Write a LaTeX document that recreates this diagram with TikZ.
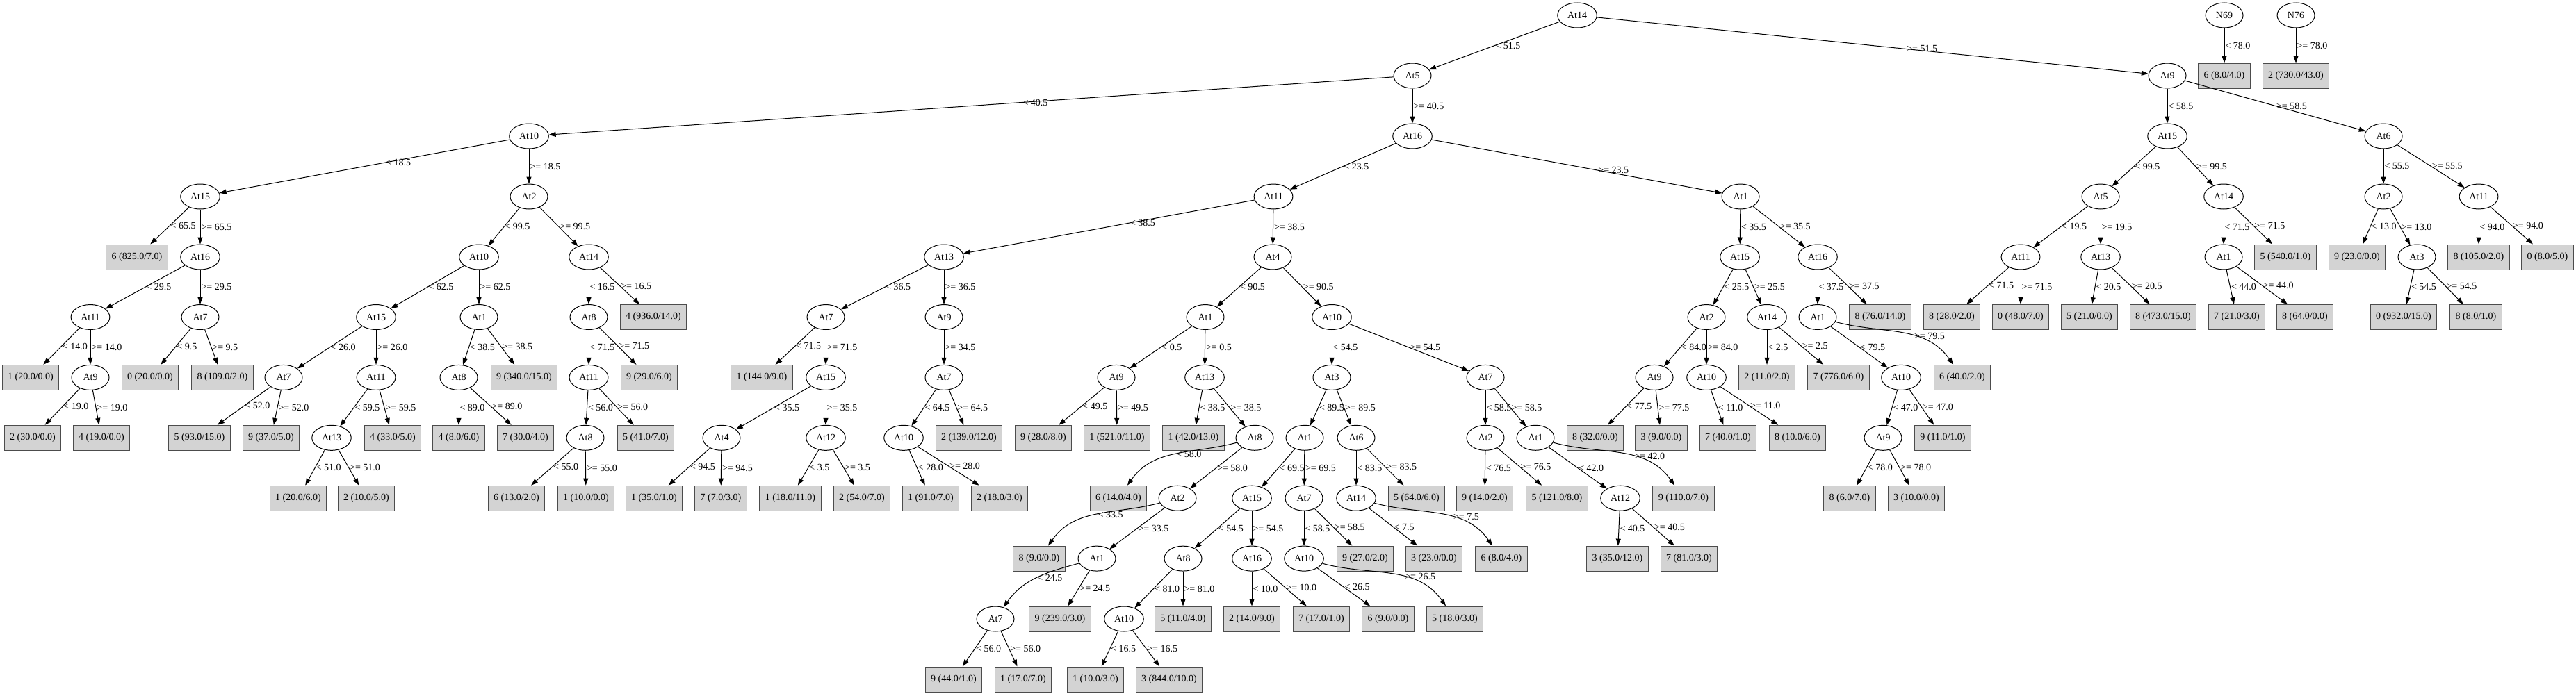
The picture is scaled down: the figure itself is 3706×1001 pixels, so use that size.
\documentclass[tikz,border=0pt]{standalone}
\usepackage{fontspec}
\setmainfont{Liberation Serif}
\usetikzlibrary{shapes.geometric, arrows.meta}
\definecolor{leafgray}{HTML}{D3D3D3}

\begin{document}
\begin{tikzpicture}[x=1pt, y=-1pt, >={Triangle[length=10pt,width=7pt]}, line width=1pt,
    font=\fontsize{14}{16}\selectfont,
    split/.style={ellipse, draw, minimum width=54pt, minimum height=36pt, inner xsep=6pt, inner ysep=3pt},
    leaf/.style={rectangle, draw=black!70, fill=leafgray, minimum width=54pt, minimum height=36pt, inner xsep=8pt},
    lbl/.style={anchor=west, inner sep=1pt},
    swingr/.style={out=-15, in=125},
    swingl/.style={out=195, in=55}]
    \useasboundingbox (0,0) rectangle (3706,1001);

    % Row 0
    \node[split] (n1) at (2269,22) {At14};
    \node[split] (n2) at (3200,22) {N69};
    \node[split] (n3) at (3303,22) {N76};

    % Row 1
    \node[split] (n4) at (2032,109) {At5};
    \node[split] (n5) at (3118,109) {At9};
    \node[leaf] (l1) at (3200,109) {6 (8.0/4.0)};
    \node[leaf] (l2) at (3303,109) {2 (730.0/43.0)};

    % Row 2
    \node[split] (n6) at (761,196) {At10};
    \node[split] (n7) at (2032,196) {At16};
    \node[split] (n8) at (3118,196) {At15};
    \node[split] (n9) at (3429,196) {At6};

    % Row 3
    \node[split] (n10) at (288,283) {At15};
    \node[split] (n11) at (761,283) {At2};
    \node[split] (n12) at (1832,283) {At11};
    \node[split] (n13) at (2504,283) {At1};
    \node[split] (n14) at (3022,283) {At5};
    \node[split] (n15) at (3199,283) {At14};
    \node[split] (n16) at (3429,283) {At2};
    \node[split] (n17) at (3566,283) {At11};

    % Row 4
    \node[leaf] (l3) at (197,370) {6 (825.0/7.0)};
    \node[split] (n18) at (288,370) {At16};
    \node[split] (n19) at (689,370) {At10};
    \node[split] (n20) at (847,370) {At14};
    \node[split] (n21) at (1358,370) {At13};
    \node[split] (n22) at (1831,370) {At4};
    \node[split] (n23) at (2503,370) {At15};
    \node[split] (n24) at (2615,370) {At16};
    \node[split] (n25) at (2907,370) {At11};
    \node[split] (n26) at (3022,370) {At13};
    \node[split] (n27) at (3199,370) {At1};
    \node[leaf] (l4) at (3288,370) {5 (540.0/1.0)};
    \node[leaf] (l5) at (3391,370) {9 (23.0/0.0)};
    \node[split] (n28) at (3477,370) {At3};
    \node[leaf] (l6) at (3566,370) {8 (105.0/2.0)};
    \node[leaf] (l7) at (3665,370) {0 (8.0/5.0)};

    % Row 5
    \node[split] (n29) at (130,456.5) {At11};
    \node[split] (n30) at (288,456.5) {At7};
    \node[split] (n31) at (541,456.5) {At15};
    \node[split] (n32) at (689,456.5) {At1};
    \node[split] (n33) at (847,456.5) {At8};
    \node[leaf] (l8) at (940,456.5) {4 (936.0/14.0)};
    \node[split] (n34) at (1188,456.5) {At7};
    \node[split] (n35) at (1358,456.5) {At9};
    \node[split] (n36) at (1734,456.5) {At1};
    \node[split] (n37) at (1916,456.5) {At10};
    \node[split] (n38) at (2455,456.5) {At2};
    \node[split] (n39) at (2542,456.5) {At14};
    \node[split] (n40) at (2615,456.5) {At1};
    \node[leaf] (l9) at (2705,456.5) {8 (76.0/14.0)};
    \node[leaf] (l10) at (2808,456.5) {8 (28.0/2.0)};
    \node[leaf] (l11) at (2907,456.5) {0 (48.0/7.0)};
    \node[leaf] (l12) at (3006,456.5) {5 (21.0/0.0)};
    \node[leaf] (l13) at (3112,456.5) {8 (473.0/15.0)};
    \node[leaf] (l14) at (3218,456.5) {7 (21.0/3.0)};
    \node[leaf] (l15) at (3316,456.5) {8 (64.0/0.0)};
    \node[leaf] (l16) at (3458,456.5) {0 (932.0/15.0)};
    \node[leaf] (l17) at (3562,456.5) {8 (8.0/1.0)};

    % Row 6
    \node[leaf] (l18) at (44,543.4) {1 (20.0/0.0)};
    \node[split] (n41) at (130,543.4) {At9};
    \node[leaf] (l19) at (216,543.4) {0 (20.0/0.0)};
    \node[leaf] (l20) at (320,543.4) {8 (109.0/2.0)};
    \node[split] (n42) at (408,543.4) {At7};
    \node[split] (n43) at (541,543.4) {At11};
    \node[split] (n44) at (660,543.4) {At8};
    \node[leaf] (l21) at (754,543.4) {9 (340.0/15.0)};
    \node[split] (n45) at (847,543.4) {At11};
    \node[leaf] (l22) at (934,543.4) {9 (29.0/6.0)};
    \node[leaf] (l23) at (1096,543.4) {1 (144.0/9.0)};
    \node[split] (n46) at (1188,543.4) {At15};
    \node[split] (n47) at (1358,543.4) {At7};
    \node[split] (n48) at (1606,543.4) {At9};
    \node[split] (n49) at (1733,543.4) {At13};
    \node[split] (n50) at (1916,543.4) {At3};
    \node[split] (n51) at (2137,543.4) {At7};
    \node[split] (n52) at (2380,543.4) {At9};
    \node[split] (n53) at (2455,543.4) {At10};
    \node[leaf] (l24) at (2542,543.4) {2 (11.0/2.0)};
    \node[leaf] (l25) at (2645,543.4) {7 (776.0/6.0)};
    \node[split] (n54) at (2735,543.4) {At10};
    \node[leaf] (l26) at (2823,543.4) {6 (40.0/2.0)};

    % Row 7
    \node[leaf] (l27) at (47,630.3) {2 (30.0/0.0)};
    \node[leaf] (l28) at (146,630.3) {4 (19.0/0.0)};
    \node[leaf] (l29) at (287,630.3) {5 (93.0/15.0)};
    \node[leaf] (l30) at (390,630.3) {9 (37.0/5.0)};
    \node[split] (n55) at (477,630.3) {At13};
    \node[leaf] (l31) at (565,630.3) {4 (33.0/5.0)};
    \node[leaf] (l32) at (660,630.3) {4 (8.0/6.0)};
    \node[leaf] (l33) at (756,630.3) {7 (30.0/4.0)};
    \node[split] (n56) at (842,630.3) {At8};
    \node[leaf] (l34) at (929,630.3) {5 (41.0/7.0)};
    \node[split] (n57) at (1038,630.3) {At4};
    \node[split] (n58) at (1188,630.3) {At12};
    \node[split] (n59) at (1300,630.3) {At10};
    \node[leaf] (l35) at (1394,630.3) {2 (139.0/12.0)};
    \node[leaf] (l36) at (1501,630.3) {9 (28.0/8.0)};
    \node[leaf] (l37) at (1607,630.3) {1 (521.0/11.0)};
    \node[leaf] (l38) at (1717,630.3) {1 (42.0/13.0)};
    \node[split] (n60) at (1805,630.3) {At8};
    \node[split] (n61) at (1877,630.3) {At1};
    \node[split] (n62) at (1951,630.3) {At6};
    \node[split] (n63) at (2137,630.3) {At2};
    \node[split] (n64) at (2209,630.3) {At1};
    \node[leaf] (l39) at (2295,630.3) {8 (32.0/0.0)};
    \node[leaf] (l40) at (2390,630.3) {3 (9.0/0.0)};
    \node[leaf] (l41) at (2486,630.3) {7 (40.0/1.0)};
    \node[leaf] (l42) at (2586,630.3) {8 (10.0/6.0)};
    \node[split] (n65) at (2709,630.3) {At9};
    \node[leaf] (l43) at (2795,630.3) {9 (11.0/1.0)};

    % Row 8
    \node[leaf] (l44) at (429,717.2) {1 (20.0/6.0)};
    \node[leaf] (l45) at (527,717.2) {2 (10.0/5.0)};
    \node[leaf] (l46) at (743,717.2) {6 (13.0/2.0)};
    \node[leaf] (l47) at (843,717.2) {1 (10.0/0.0)};
    \node[leaf] (l48) at (941,717.2) {1 (35.0/1.0)};
    \node[leaf] (l49) at (1037,717.2) {7 (7.0/3.0)};
    \node[leaf] (l50) at (1137,717.2) {1 (18.0/11.0)};
    \node[leaf] (l51) at (1240,717.2) {2 (54.0/7.0)};
    \node[leaf] (l52) at (1339,717.2) {1 (91.0/7.0)};
    \node[leaf] (l53) at (1438,717.2) {2 (18.0/3.0)};
    \node[leaf] (l54) at (1609,717.2) {6 (14.0/4.0)};
    \node[split] (n66) at (1694,717.2) {At2};
    \node[split] (n67) at (1801,717.2) {At15};
    \node[split] (n68) at (1876,717.2) {At7};
    \node[split] (n69) at (1951,717.2) {At14};
    \node[leaf] (l55) at (2038,717.2) {5 (64.0/6.0)};
    \node[leaf] (l56) at (2136,717.2) {9 (14.0/2.0)};
    \node[leaf] (l57) at (2240,717.2) {5 (121.0/8.0)};
    \node[split] (n70) at (2331,717.2) {At12};
    \node[leaf] (l58) at (2422,717.2) {9 (110.0/7.0)};
    \node[leaf] (l59) at (2661,717.2) {8 (6.0/7.0)};
    \node[leaf] (l60) at (2757,717.2) {3 (10.0/0.0)};

    % Row 9
    \node[leaf] (l61) at (1495,804.1) {8 (9.0/0.0)};
    \node[split] (n71) at (1578,804.1) {At1};
    \node[split] (n72) at (1702,804.1) {At8};
    \node[split] (n73) at (1801,804.1) {At16};
    \node[split] (n74) at (1876,804.1) {At10};
    \node[leaf] (l62) at (1964,804.1) {9 (27.0/2.0)};
    \node[leaf] (l63) at (2063,804.1) {3 (23.0/0.0)};
    \node[leaf] (l64) at (2160,804.1) {6 (8.0/4.0)};
    \node[leaf] (l65) at (2327,804.1) {3 (35.0/12.0)};
    \node[leaf] (l66) at (2430,804.1) {7 (81.0/3.0)};

    % Row 10
    \node[split] (n75) at (1432,891) {At7};
    \node[leaf] (l67) at (1525,891) {9 (239.0/3.0)};
    \node[split] (n76) at (1617,891) {At10};
    \node[leaf] (l68) at (1702,891) {5 (11.0/4.0)};
    \node[leaf] (l69) at (1801,891) {2 (14.0/9.0)};
    \node[leaf] (l70) at (1901,891) {7 (17.0/1.0)};
    \node[leaf] (l71) at (1997,891) {6 (9.0/0.0)};
    \node[leaf] (l72) at (2093,891) {5 (18.0/3.0)};

    % Row 11
    \node[leaf] (l73) at (1372,978) {9 (44.0/1.0)};
    \node[leaf] (l74) at (1472,978) {1 (17.0/7.0)};
    \node[leaf] (l75) at (1576,978) {1 (10.0/3.0)};
    \node[leaf] (l76) at (1682,978) {3 (844.0/10.0)};

    % Splits
    \path[->]
        (n1) edge node[lbl] {< 51.5} (n4)
             edge node[lbl, pos=.56] {>= 51.5} (n5)
        (n2) edge node[lbl] {< 78.0} (l1)
        (n3) edge node[lbl] {>= 78.0} (l2)
        (n4) edge node[lbl, pos=.44] {< 40.5} (n6)
             edge node[lbl] {>= 40.5} (n7)
        (n5) edge node[lbl] {< 58.5} (n8)
             edge node[lbl] {>= 58.5} (n9)
        (n6) edge node[lbl, pos=.43] {< 18.5} (n10)
             edge node[lbl] {>= 18.5} (n11)
        (n7) edge node[lbl] {< 23.5} (n12)
             edge node[lbl, pos=.57] {>= 23.5} (n13)
        (n8) edge node[lbl] {< 99.5} (n14)
             edge node[lbl] {>= 99.5} (n15)
        (n9) edge node[lbl] {< 55.5} (n16)
             edge node[lbl] {>= 55.5} (n17)
        (n10) edge node[lbl] {< 65.5} (l3)
              edge node[lbl] {>= 65.5} (n18)
        (n11) edge node[lbl] {< 99.5} (n19)
              edge node[lbl] {>= 99.5} (n20)
        (n12) edge node[lbl, pos=.43] {< 38.5} (n21)
              edge node[lbl] {>= 38.5} (n22)
        (n13) edge node[lbl] {< 35.5} (n23)
              edge node[lbl] {>= 35.5} (n24)
        (n14) edge node[lbl] {< 19.5} (n25)
              edge node[lbl] {>= 19.5} (n26)
        (n15) edge node[lbl] {< 71.5} (n27)
              edge node[lbl] {>= 71.5} (l4)
        (n16) edge node[lbl] {< 13.0} (l5)
              edge node[lbl] {>= 13.0} (n28)
        (n17) edge node[lbl] {< 94.0} (l6)
              edge node[lbl] {>= 94.0} (l7)
        (n18) edge node[lbl] {< 29.5} (n29)
              edge node[lbl] {>= 29.5} (n30)
        (n19) edge node[lbl] {< 62.5} (n31)
              edge node[lbl] {>= 62.5} (n32)
        (n20) edge node[lbl] {< 16.5} (n33)
              edge node[lbl] {>= 16.5} (l8)
        (n21) edge node[lbl] {< 36.5} (n34)
              edge node[lbl] {>= 36.5} (n35)
        (n22) edge node[lbl] {< 90.5} (n36)
              edge node[lbl] {>= 90.5} (n37)
        (n23) edge node[lbl] {< 25.5} (n38)
              edge node[lbl] {>= 25.5} (n39)
        (n24) edge node[lbl] {< 37.5} (n40)
              edge node[lbl] {>= 37.5} (l9)
        (n25) edge node[lbl] {< 71.5} (l10)
              edge node[lbl] {>= 71.5} (l11)
        (n26) edge node[lbl] {< 20.5} (l12)
              edge node[lbl] {>= 20.5} (l13)
        (n27) edge node[lbl] {< 44.0} (l14)
              edge node[lbl] {>= 44.0} (l15)
        (n28) edge node[lbl] {< 54.5} (l16)
              edge node[lbl] {>= 54.5} (l17)
        (n29) edge node[lbl] {< 14.0} (l18)
              edge node[lbl] {>= 14.0} (n41)
        (n30) edge node[lbl] {< 9.5} (l19)
              edge node[lbl] {>= 9.5} (l20)
        (n31) edge node[lbl] {< 26.0} (n42)
              edge node[lbl] {>= 26.0} (n43)
        (n32) edge node[lbl] {< 38.5} (n44)
              edge node[lbl] {>= 38.5} (l21)
        (n33) edge node[lbl] {< 71.5} (n45)
              edge node[lbl] {>= 71.5} (l22)
        (n34) edge node[lbl] {< 71.5} (l23)
              edge node[lbl] {>= 71.5} (n46)
        (n35) edge node[lbl] {>= 34.5} (n47)
        (n36) edge node[lbl] {< 0.5} (n48)
              edge node[lbl] {>= 0.5} (n49)
        (n37) edge node[lbl] {< 54.5} (n50)
              edge node[lbl] {>= 54.5} (n51)
        (n38) edge node[lbl] {< 84.0} (n52)
              edge node[lbl] {>= 84.0} (n53)
        (n39) edge node[lbl] {< 2.5} (l24)
              edge node[lbl] {>= 2.5} (l25)
        (n40) edge node[lbl] {< 79.5} (n54)
              edge[swingr] node[lbl, pos=.6] {>= 79.5} (l26)
        (n41) edge node[lbl] {< 19.0} (l27)
              edge node[lbl] {>= 19.0} (l28)
        (n42) edge node[lbl] {< 52.0} (l29)
              edge node[lbl] {>= 52.0} (l30)
        (n43) edge node[lbl] {< 59.5} (n55)
              edge node[lbl] {>= 59.5} (l31)
        (n44) edge node[lbl] {< 89.0} (l32)
              edge node[lbl] {>= 89.0} (l33)
        (n45) edge node[lbl] {< 56.0} (n56)
              edge node[lbl] {>= 56.0} (l34)
        (n46) edge node[lbl] {< 35.5} (n57)
              edge node[lbl] {>= 35.5} (n58)
        (n47) edge node[lbl] {< 64.5} (n59)
              edge node[lbl] {>= 64.5} (l35)
        (n48) edge node[lbl] {< 49.5} (l36)
              edge node[lbl] {>= 49.5} (l37)
        (n49) edge node[lbl] {< 38.5} (l38)
              edge node[lbl] {>= 38.5} (n60)
        (n50) edge node[lbl] {< 89.5} (n61)
              edge node[lbl] {>= 89.5} (n62)
        (n51) edge node[lbl] {< 58.5} (n63)
              edge node[lbl] {>= 58.5} (n64)
        (n52) edge node[lbl] {< 77.5} (l39)
              edge node[lbl] {>= 77.5} (l40)
        (n53) edge node[lbl] {< 11.0} (l41)
              edge node[lbl] {>= 11.0} (l42)
        (n54) edge node[lbl] {< 47.0} (n65)
              edge node[lbl] {>= 47.0} (l43)
        (n55) edge node[lbl] {< 51.0} (l44)
              edge node[lbl] {>= 51.0} (l45)
        (n56) edge node[lbl] {< 55.0} (l46)
              edge node[lbl] {>= 55.0} (l47)
        (n57) edge node[lbl] {< 94.5} (l48)
              edge node[lbl] {>= 94.5} (l49)
        (n58) edge node[lbl] {< 3.5} (l50)
              edge node[lbl] {>= 3.5} (l51)
        (n59) edge node[lbl] {< 28.0} (l52)
              edge node[lbl] {>= 28.0} (l53)
        (n60) edge[swingl] node[lbl] {< 58.0} (l54)
              edge node[lbl] {>= 58.0} (n66)
        (n61) edge node[lbl] {< 69.5} (n67)
              edge node[lbl] {>= 69.5} (n68)
        (n62) edge node[lbl] {< 83.5} (n69)
              edge node[lbl] {>= 83.5} (l55)
        (n63) edge node[lbl] {< 76.5} (l56)
              edge node[lbl] {>= 76.5} (l57)
        (n64) edge node[lbl] {< 42.0} (n70)
              edge[swingr] node[lbl, pos=.6] {>= 42.0} (l58)
        (n65) edge node[lbl] {< 78.0} (l59)
              edge node[lbl] {>= 78.0} (l60)
        (n66) edge[swingl] node[lbl] {< 33.5} (l61)
              edge node[lbl] {>= 33.5} (n71)
        (n67) edge node[lbl] {< 54.5} (n72)
              edge node[lbl] {>= 54.5} (n73)
        (n68) edge node[lbl] {< 58.5} (n74)
              edge node[lbl] {>= 58.5} (l62)
        (n69) edge node[lbl] {< 7.5} (l63)
              edge[swingr] node[lbl, pos=.6] {>= 7.5} (l64)
        (n70) edge node[lbl] {< 40.5} (l65)
              edge node[lbl] {>= 40.5} (l66)
        (n71) edge[swingl] node[lbl] {< 24.5} (n75)
              edge node[lbl] {>= 24.5} (l67)
        (n72) edge node[lbl] {< 81.0} (n76)
              edge node[lbl] {>= 81.0} (l68)
        (n73) edge node[lbl] {< 10.0} (l69)
              edge node[lbl] {>= 10.0} (l70)
        (n74) edge node[lbl] {< 26.5} (l71)
              edge[swingr] node[lbl, pos=.6] {>= 26.5} (l72)
        (n75) edge node[lbl] {< 56.0} (l73)
              edge node[lbl] {>= 56.0} (l74)
        (n76) edge node[lbl] {< 16.5} (l75)
              edge node[lbl] {>= 16.5} (l76);

\end{tikzpicture}
\end{document}
